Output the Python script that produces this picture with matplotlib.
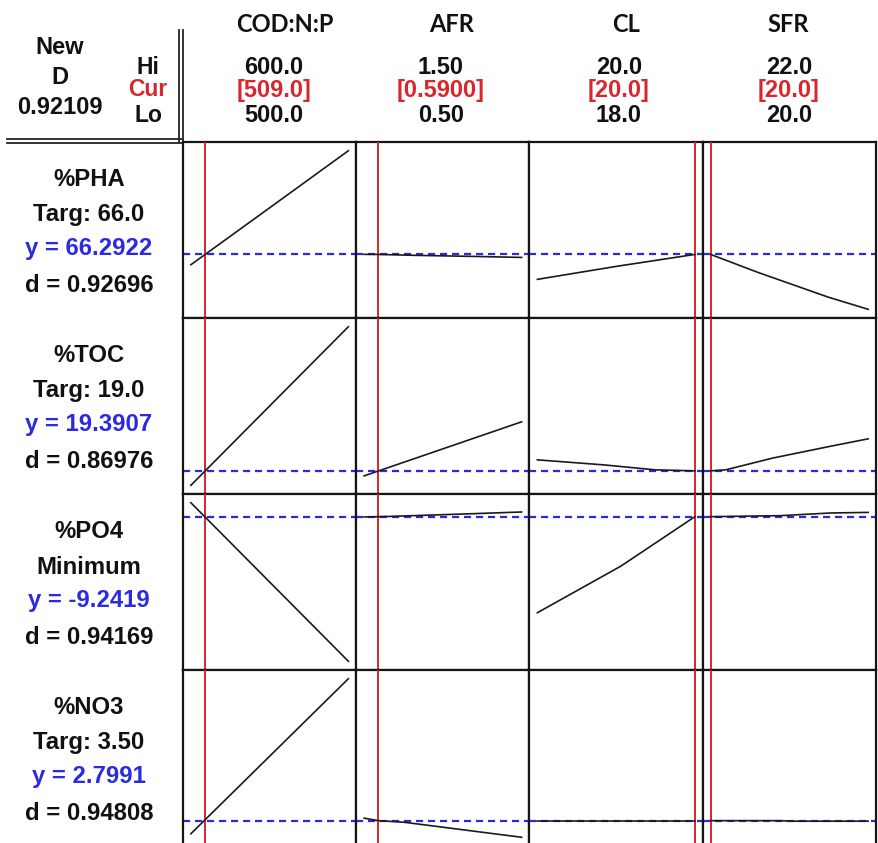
import matplotlib
matplotlib.use("Agg")
import matplotlib.pyplot as plt
from matplotlib.lines import Line2D

# ---------------- data ----------------
factors = ["COD:N:P", "AFR", "CL", "SFR"]
factor_hi_lbl = ["600.0", "1.50", "20.0", "22.0"]
factor_cur_lbl = ["[509.0]", "[0.5900]", "[20.0]", "[20.0]"]
factor_lo_lbl = ["500.0", "0.50", "18.0", "20.0"]
factor_lo = [500, 0.5, 18, 20]
factor_hi = [600, 1.5, 20, 22]
factor_cur = [509, 0.59, 20, 20]

responses = ["%PHA", "%TOC", "%PO4", "%NO3"]
goals = ["Targ: 66.0", "Targ: 19.0", "Minimum", "Targ: 3.50"]
predicted = [66.2922, 19.3907, -9.2419, 2.7991]
predicted_lbl = ["66.2922", "19.3907", "-9.2419", "2.7991"]
desirability_lbl = ["0.92696", "0.86976", "0.94169", "0.94808"]
composite_D = "0.92109"

# response curves (x in factor units, y in response units), one list per factor
pha_x = [[500, 550, 600], [0.5, 0.59, 0.85, 1.2, 1.5], [18, 19, 20], [20, 20.6, 21.5, 22]]
pha_y = [[65.05, 71.9, 78.77], [66.30, 66.29, 66.17, 66.05, 65.93], [63.29, 64.85, 66.29], [66.29, 64.13, 61.13, 59.69]]

toc_x = [[500, 550, 600], [0.5, 1.0, 1.5], [18, 18.84, 19.5, 20], [20, 20.19, 20.79, 21.51, 22]]
toc_y = [[18.67, 22.63, 26.59], [19.14, 20.49, 21.84], [19.94, 19.69, 19.44, 19.39], [19.39, 19.44, 20.03, 20.61, 20.99]]

po4_x = [[500, 550, 600], [0.5, 0.59, 0.67, 1.19, 1.5], [18, 19.06, 20], [20, 20.88, 21.52, 22]]
po4_y = [[-7.84, -15.79, -23.74], [-9.27, -9.24, -9.21, -8.94, -8.77], [-18.87, -14.2, -9.24], [-9.24, -9.14, -8.87, -8.81]]

no3_x = [[500, 550, 600], [0.5, 0.59, 0.75, 1.5], [18, 20], [20, 20.9, 21.0, 22]]
no3_y = [[2.54, 4.08, 5.62], [2.85, 2.80, 2.77, 2.47], [2.80, 2.80], [2.80, 2.80, 2.79, 2.79]]

curves_x = [pha_x, toc_x, po4_x, no3_x]
curves_y = [pha_y, toc_y, po4_y, no3_y]

# ---------------- layout ----------------
W, H = 879, 843
RED = "#d8262b"
BLUE = "#2a2ae0"
TXT = "#111111"
FONT = "Liberation Sans"

fig = plt.figure(figsize=(W / 100, H / 100), dpi=100)

# overlay axes in pixel coordinates for header/labels
bg = fig.add_axes([0, 0, 1, 1])
bg.set_xlim(0, W)
bg.set_ylim(H, 0)
bg.axis("off")

col_left = 183.0
col_w = (876.0 - 183.0) / 4
row_top = 142.0
row_h = 176.0
pad = 0.05
ypad = 0.055

for r in range(4):
    allv = [v for ys in curves_y[r] for v in ys]
    ymin, ymax = min(allv), max(allv)
    span = ymax - ymin
    for c in range(4):
        x0 = col_left + c * col_w
        y0 = row_top + r * row_h
        ax = fig.add_axes([x0 / W, 1 - (y0 + row_h) / H, col_w / W, row_h / H])
        xr = factor_hi[c] - factor_lo[c]
        ax.set_xlim(factor_lo[c] - pad * xr, factor_hi[c] + pad * xr)
        ax.set_ylim(ymin - ypad * span, ymax + ypad * span)
        ax.set_xticks([])
        ax.set_yticks([])
        for s in ax.spines.values():
            s.set_linewidth(1.6)
            s.set_color("#151515")
        ax.axhline(predicted[r], color=BLUE, lw=1.6, ls=(0, (3.2, 2.2)), zorder=2)
        ax.axvline(factor_cur[c], color=RED, lw=1.4, zorder=3)
        ax.plot(curves_x[r][c], curves_y[r][c], color="#1a1a1a", lw=1.2, zorder=4)

    # left labels
    yt = row_top + r * row_h
    cx = 89
    bg.text(cx, yt + 38, responses[r], ha="center", va="center", fontsize=17.2,
            fontweight="bold", family=FONT, color=TXT)
    bg.text(cx, yt + 73, goals[r], ha="center", va="center", fontsize=17.2,
            fontweight="bold", family=FONT, color=TXT)
    bg.text(cx, yt + 107, "y = " + predicted_lbl[r], ha="center", va="center", fontsize=17.2,
            fontweight="bold", family=FONT, color=BLUE)
    bg.text(cx, yt + 143, "d = " + desirability_lbl[r], ha="center", va="center", fontsize=17.2,
            fontweight="bold", family=FONT, color=TXT)

# header
hdr_x = [285, 452, 626, 788]
val_x = [274, 441, 619, 789]
for c in range(4):
    bg.text(hdr_x[c], 24, factors[c], ha="center", va="center", fontsize=17,
            fontweight="bold", family="Lato", color=TXT)
    bg.text(val_x[c], 67, factor_hi_lbl[c], ha="center", va="center", fontsize=17,
            fontweight="bold", family=FONT, color=TXT)
    bg.text(val_x[c], 91, factor_cur_lbl[c], ha="center", va="center", fontsize=17,
            fontweight="bold", family=FONT, color=RED)
    bg.text(val_x[c], 116, factor_lo_lbl[c], ha="center", va="center", fontsize=17,
            fontweight="bold", family=FONT, color=TXT)

bg.text(60, 47, "New", ha="center", va="center", fontsize=17, fontweight="bold", family=FONT, color=TXT)
bg.text(60, 78, "D", ha="center", va="center", fontsize=17, fontweight="bold", family=FONT, color=TXT)
bg.text(60, 107, composite_D, ha="center", va="center", fontsize=17, fontweight="bold", family=FONT, color=TXT)
bg.text(148, 67, "Hi", ha="center", va="center", fontsize=16.5, fontweight="bold", family=FONT, color=TXT)
bg.text(148, 90, "Cur", ha="center", va="center", fontsize=16.5, fontweight="bold", family=FONT, color=RED)
bg.text(148, 116, "Lo", ha="center", va="center", fontsize=16.5, fontweight="bold", family=FONT, color=TXT)

# double separator lines in header
for xx in (179, 183):
    bg.add_line(Line2D([xx, xx], [30, 142], color="#222222", lw=1.3))
for yy in (139, 143):
    bg.add_line(Line2D([7, 182], [yy, yy], color="#222222", lw=1.3))

fig.savefig("out.png", dpi=100)
